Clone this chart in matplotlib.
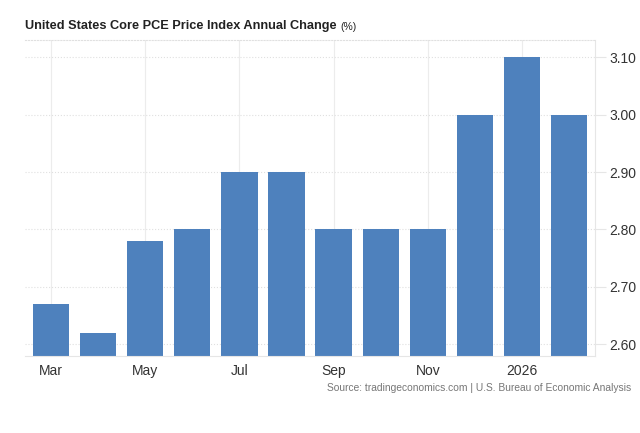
import numpy as np
import matplotlib.pyplot as plt

# Dane
months = ['Mar', 'Apr', 'May', 'Jun', 'Jul', 'Aug', 'Sep', 'Oct', 'Nov', 'Dec', '2026', 'Feb']
values = [2.67, 2.62, 2.78, 2.80, 2.90, 2.90, 2.80, 2.80, 2.80, 3.00, 3.10, 3.00]
y_ticks = [2.60, 2.70, 2.80, 2.90, 3.00, 3.10]
shown_labels = ['Mar', 'May', 'Jul', 'Sep', 'Nov', '2026']

plt.rcParams['font.family'] = ['Liberation Sans', 'DejaVu Sans']

fig = plt.figure(figsize=(6.4, 4.33), dpi=100)
ax = fig.add_axes([0.039, 0.178, 0.891, 0.73])

x = np.arange(len(months))
ax.bar(x, values, width=0.77, color='#4e81bd', zorder=2)

ax.set_xlim(-0.55, len(months) - 0.45)
ax.set_ylim(2.58, 3.13)

tick_pos = [i for i, m in enumerate(months) if m in shown_labels]
ax.set_xticks(tick_pos)
ax.set_xticklabels([months[i] for i in tick_pos], fontsize=10, color='#333333')
ax.tick_params(axis='x', length=0, pad=6)

ax.yaxis.tick_right()
ax.set_yticks(y_ticks)
ax.set_yticklabels([f'{v:.2f}' for v in y_ticks], fontsize=10, color='#333333')
ax.tick_params(axis='y', length=8, color='#e6e6e6', pad=2)

ax.grid(axis='y', color='#e0e0e0', linestyle=':', linewidth=0.8, zorder=0)
ax.grid(axis='x', color='#ececec', linestyle='-', linewidth=0.8, zorder=0)

ax.spines['left'].set_visible(False)
ax.spines['top'].set_color('#e0e0e0')
ax.spines['top'].set_linestyle(':')
ax.spines['right'].set_color('#e6e6e6')
ax.spines['bottom'].set_color('#e6e6e6')

# Tytuł + mniejsze "(%)" tuż za nim
title = fig.text(0.039, 0.934, 'United States Core PCE Price Index Annual Change', fontsize=9.2,
                 fontweight='bold', color='#222222', va='baseline')
fig.canvas.draw()
ax.annotate('(%)', xy=(1, 0), xycoords=title, xytext=(3, 0), textcoords='offset points',
            fontsize=7.5, color='#222222', va='bottom', annotation_clip=False)
fig.text(0.987, 0.103, 'Source: tradingeconomics.com | U.S. Bureau of Economic Analysis',
         fontsize=7.4, color='#777777', ha='right', va='center')

plt.savefig('out.png', dpi=100)
